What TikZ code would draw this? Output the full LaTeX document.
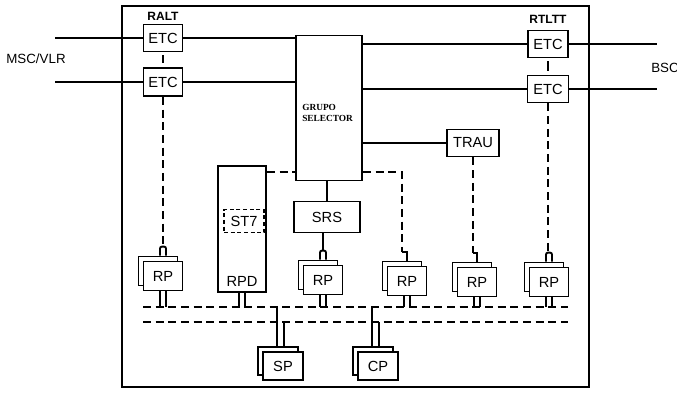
\documentclass[tikz,border=0pt]{standalone}
\usepackage{fontspec}
\setsansfont{Liberation Sans}
\setmainfont{Liberation Serif}
\usetikzlibrary{positioning,shadows}

\tikzset{
  blk/.style={draw,line width=1.4pt,fill=white,inner sep=0pt,font=\sffamily\fontsize{11}{13}\selectfont},
  stk/.style={blk,minimum width=29.25pt,minimum height=21.75pt,
    copy shadow={shadow xshift=-3.75pt,shadow yshift=3.75pt,draw,fill=white,line width=1.4pt}},
  wire/.style={line width=1.4pt},
  dwire/.style={line width=1.4pt,dash pattern=on 6pt off 3.5pt},
  tag/.style={font=\sffamily\bfseries\fontsize{9}{10}\selectfont,inner sep=1pt}
}

\begin{document}
\begin{tikzpicture}[x=0.75pt,y=-0.75pt]
  \useasboundingbox (0,0) rectangle (677,392);
  \draw[line width=1.5pt] (122,6) rectangle (589,387);
  % ETC units
  \node[blk,minimum width=29.25pt,minimum height=20.25pt] (etcA) at (163,38) {ETC};
  \node[blk,minimum width=29.25pt,minimum height=21pt] (etcB) at (163,82) {ETC};
  \node[blk,minimum width=30pt,minimum height=20.25pt] (etcC) at (548,44) {ETC};
  \node[blk,minimum width=30.75pt,minimum height=20.25pt] (etcD) at (548,89) {ETC};
  \node[tag,above=1pt of etcA] (ralt) {RALT};
  \node[tag,above=3.5pt of etcC] (rtltt) {RTLTT};
  \node[font=\sffamily\fontsize{10}{12}\selectfont] (msc) at (36,59) {MSC/VLR};
  \node[font=\sffamily\fontsize{10}{12}\selectfont,anchor=west,inner sep=0pt] (bsc) at (651,68) {BSC};
  % selector and friends
  \node[blk,minimum width=49.5pt,minimum height=108.75pt] (sel) at (329,108) {};
  \node[font=\rmfamily\bfseries\fontsize{7}{8.5}\selectfont,align=left,anchor=west,inner sep=0pt] (seltxt) at (302,113) {GRUPO\\SELECTOR};
  \node[blk,minimum width=39pt,minimum height=20.25pt] (trau) at (473,143) {TRAU};
  \node[blk,minimum width=49.5pt,minimum height=23.25pt] (srs) at (327,217) {SRS};
  \node[blk,minimum width=36pt,minimum height=94.5pt] (rpd) at (242,229) {};
  \node[font=\sffamily\fontsize{11}{13}\selectfont,inner sep=0pt,above=5pt of rpd.south] (rpdtxt) {RPD};
  \node[blk,dash pattern=on 3pt off 2pt,minimum width=30pt,minimum height=17.25pt] (st7) at (244,221) {ST7};
  % processors
  \foreach \n/\x/\y in {rpA/163/276,rpB/323/280,rpC/407/281,rpD/477/282,rpE/549/282}
    \node[stk] (\n) at (\x,\y) {RP};
  \node[stk,minimum width=30pt,minimum height=20.6pt] (sp) at (283,366) {SP};
  \node[stk,minimum width=30pt,minimum height=20.6pt] (cp) at (378,366) {CP};
  % outside lines
  \coordinate (mscA) at (55,38); \coordinate (mscB) at (55,82);
  \coordinate (bscA) at (657,44); \coordinate (bscB) at (657,89);
  \draw[wire] (mscA) -- (etcA.west); \draw[wire] (mscB) -- (etcB.west);
  \draw[wire] (etcC.east) -- (bscA); \draw[wire] (etcD.east) -- (bscB);
  % to the selector
  \draw[wire] (etcA.east) -- (etcA.east -| sel.west);
  \draw[wire] (etcB.east) -- (etcB.east -| sel.west);
  \draw[wire] (etcC.west) -- (etcC.west -| sel.east);
  \draw[wire] (etcD.west) -- (etcD.west -| sel.east);
  \draw[wire] (trau.west) -- (trau.west -| sel.east);
  \draw[wire] ([xshift=-1.5pt]sel.south) -- ([xshift=-1.5pt]sel.south |- srs.north);
  \draw[wire] ([yshift=-2pt]etcA.south) -- ([yshift=3pt]etcB.north);
  \draw[wire] ([yshift=-2pt]etcC.south) -- ([yshift=3pt]etcD.north);
  % bumps and hooks on top of the RPs
  \foreach \n in {rpA,rpB,rpE}{
    \coordinate (t\n) at ([yshift=10.5pt]\n.north);
    \draw[wire,rounded corners=1.5pt] ([xshift=-2.25pt,yshift=3.75pt]\n.north) -- ++(0,-9) -| ([xshift=2.25pt,yshift=3.75pt]\n.north);}
  \draw[dwire] (etcB.south) -- (etcB.south |- trpA);
  \draw[wire] (trpB |- srs.south) -- (trpB);
  \draw[dwire] (etcD.south) -- (etcD.south |- trpE);
  \coordinate (dl) at (0,172);
  \coordinate (hC) at ([xshift=-3.75pt,yshift=10pt]rpC.north);
  \coordinate (hD) at ([xshift=-3.75pt,yshift=10pt]rpD.north);
  \draw[dwire] (rpd.east |- dl) -- (sel.west |- dl);
  \draw[dwire] (sel.east |- dl) -- (hC |- dl) -- (hC);
  \draw[wire] (hC) -| ([yshift=3.75pt]rpC.north);
  \draw[dwire] (trau.south) -- (trau.south |- hD);
  \draw[wire] (trau.south |- hD) -| ([yshift=3.75pt]rpD.north);
  % buses
  \coordinate (busAw) at (143,307); \coordinate (busAe) at (568,307);
  \coordinate (busBw) at (143,322); \coordinate (busBe) at (568,322);
  \draw[dwire] (busAw) -- (busAe);
  \draw[dwire] (busBw) -- (busBe);
  \foreach \n in {rpA,rpB,rpC,rpD,rpE,rpd}
    \foreach \s in {-2.25pt,2.25pt}{
      \coordinate (ld) at ([xshift=\s]\n.south);
      \draw[wire] (ld) -- (ld |- busAw);}
  \foreach \n in {sp,cp}{
    \coordinate (la) at ([xshift=-4.5pt,yshift=3.75pt]\n.north);
    \coordinate (lb) at ([xshift=0.75pt,yshift=3.75pt]\n.north);
    \draw[wire] (la) -- (la |- busAw);
    \draw[wire] (lb) -- (lb |- busBw);}
\end{tikzpicture}
\end{document}
